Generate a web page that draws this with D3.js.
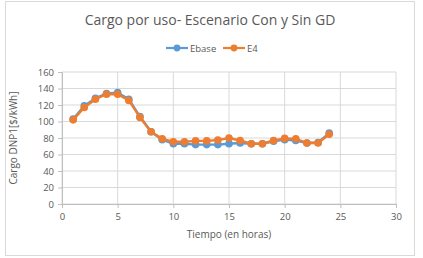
<!DOCTYPE html>
<html>
<head>
<meta charset="utf-8">
<script src="https://cdn.jsdelivr.net/npm/d3@7"></script>
<style>
  body { margin: 0; background: #fff; }
  text { font-family: "Open Sans", "Liberation Sans", sans-serif; fill: #595959; }
</style>
</head>
<body>
<div class="chart"></div>
<script>
const hours = [1,2,3,4,5,6,7,8,9,10,11,12,13,14,15,16,17,18,19,20,21,22,23,24]
const ebase = [103,119,128,134,135,127,106,87.5,78,73,73,72,72,72,73,74,73,73,76,78,77,74,74.5,86]
const e4 = [102,117,127,133,133,125.5,105,87.5,79,75.5,75.5,76.5,76.5,77.5,80,77,73,73,77,79.5,79,74,74,84.5]
const series = [
    { name: "Ebase", values: ebase, color: "#5B9BD5" },
    { name: "E4", values: e4, color: "#ED7D31" }
]
const xTicks = [0, 5, 10, 15, 20, 25, 30]
const yTicks = [0, 20, 40, 60, 80, 100, 120, 140, 160]

const width = 423
const height = 258
const margin = { top: 72, right: 27, bottom: 54, left: 62 }

const svg = d3.select(".chart")
    .append("svg")
    .attr("width", width)
    .attr("height", height)

// outer chart border
svg.append("rect")
    .attr("x", 5.5)
    .attr("y", 1.5)
    .attr("width", 409)
    .attr("height", 254)
    .attr("fill", "#fff")
    .attr("stroke", "#d9d9d9")

const x = d3.scaleLinear().domain([0, 30]).range([margin.left, width - margin.right])
const y = d3.scaleLinear().domain([0, 160]).range([height - margin.bottom, margin.top])

// gridlines
svg.append("g")
    .selectAll("line")
    .data(yTicks)
    .join("line")
    .attr("x1", x(0)).attr("x2", x(30))
    .attr("y1", d => y(d)).attr("y2", d => y(d))
    .attr("stroke", "#d9d9d9")

svg.append("g")
    .selectAll("line")
    .data(xTicks)
    .join("line")
    .attr("x1", d => x(d)).attr("x2", d => x(d))
    .attr("y1", y(0)).attr("y2", y(160))
    .attr("stroke", "#d9d9d9")

// axes
const xAxis = svg.append("g")
    .attr("transform", `translate(0,${y(0)})`)
    .call(d3.axisBottom(x).tickValues(xTicks).tickSize(4).tickPadding(5))
const yAxis = svg.append("g")
    .attr("transform", `translate(${x(0)},0)`)
    .call(d3.axisLeft(y).tickValues(yTicks).tickSize(4).tickPadding(4))

xAxis.select(".domain").attr("stroke", "#bfbfbf")
yAxis.select(".domain").attr("stroke", "#bfbfbf")
svg.selectAll(".tick line").attr("stroke", "#bfbfbf")
svg.selectAll(".tick text")
    .style("font-family", "'Open Sans', sans-serif")
    .attr("font-size", 9.5)
    .attr("fill", "#595959")

// lines
const line = d3.line()
    .x((d, i) => x(hours[i]))
    .y(d => y(d))

series.forEach(s => {
    const g = svg.append("g")
    g.append("path")
        .datum(s.values)
        .attr("d", line)
        .attr("fill", "none")
        .attr("stroke", s.color)
        .attr("stroke-width", 2.4)
    g.selectAll("circle")
        .data(s.values)
        .join("circle")
        .attr("cx", (d, i) => x(hours[i]))
        .attr("cy", d => y(d))
        .attr("r", 3.8)
        .attr("fill", s.color)
})

// title
svg.append("text")
    .attr("x", 210)
    .attr("y", 25)
    .attr("text-anchor", "middle")
    .attr("font-size", 14)
    .text("Cargo por uso- Escenario Con y Sin GD")

// legend
const legend = svg.append("g")
    .attr("transform", "translate(166,48)")
const legendPos = [0, 57]
series.forEach((s, i) => {
    const lg = legend.append("g").attr("transform", `translate(${legendPos[i]},0)`)
    lg.append("line")
        .attr("x1", 0).attr("x2", 22)
        .attr("stroke", s.color)
        .attr("stroke-width", 2.2)
    lg.append("circle")
        .attr("cx", 11)
        .attr("r", 3.4)
        .attr("fill", s.color)
    lg.append("text")
        .attr("x", 24)
        .attr("y", 3.5)
        .attr("font-size", 9.5)
        .text(s.name)
})

// axis titles
svg.append("text")
    .attr("x", x(15))
    .attr("y", 238)
    .attr("text-anchor", "middle")
    .attr("font-size", 10)
    .text("Tiempo (en horas)")

svg.append("text")
    .attr("transform", `translate(17,${y(80)}) rotate(-90)`)
    .attr("text-anchor", "middle")
    .attr("font-size", 10)
    .text("Cargo DNP1[$/kWh]")
</script>
</body>
</html>
